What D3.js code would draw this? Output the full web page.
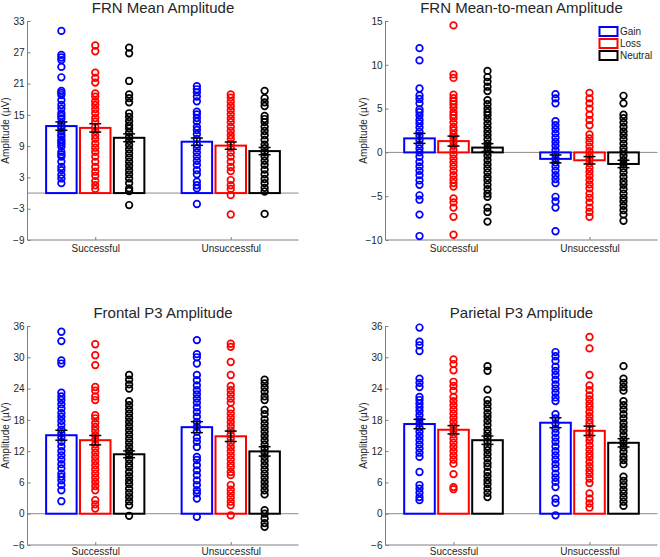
<!DOCTYPE html>
<html>
<head>
<meta charset="utf-8">
<script src="https://cdn.jsdelivr.net/npm/d3@7"></script>
<style>
  html, body { margin: 0; padding: 0; background: #fff; }
  svg { display: block; }
  text { font-family: "Liberation Sans", Arial, Helvetica, sans-serif; }
</style>
</head>
<body>
<svg id="chart" width="660" height="557"></svg>
<script>
// ---------- DATA ----------
const categories = ["Successful", "Unsuccessful"];
const seriesNames = ["Gain", "Loss", "Neutral"];
const seriesColors = ["#0000ff", "#ff0000", "#000000"];
const titles = ["FRN Mean Amplitude", "FRN Mean-to-mean Amplitude", "Frontal P3 Amplitude", "Parietal P3 Amplitude"];
const yLabel = "Amplitude (µV)";

const yTicksFrnMean = [-9, -3, 3, 9, 15, 21, 27, 33];
const yTicksFrnM2M = [-10, -5, 0, 5, 10, 15];
const yTicksFrontal = [-6, 0, 6, 12, 18, 24, 30, 36];
const yTicksParietal = [-6, 0, 6, 12, 18, 24, 30, 36];

// Bar means [category][series] and standard errors
const frnMeanMeans = [[12.85, 12.5, 10.6], [9.85, 9.1, 8.05]];
const frnMeanSE = [[0.8, 0.8, 0.75], [0.7, 0.7, 0.7]];
const frnM2MMeans = [[1.6, 1.29, 0.55], [-0.74, -0.9, -1.32]];
const frnM2MSE = [[0.57, 0.57, 0.45], [0.45, 0.42, 0.42]];
const frontalMeans = [[15.05, 14.1, 11.4], [16.6, 14.85, 11.95]];
const frontalSE = [[0.95, 0.9, 0.65], [1.05, 1.0, 0.9]];
const parietalMeans = [[17.2, 16.1, 14.1], [17.45, 15.9, 13.6]];
const parietalSE = [[0.9, 0.8, 0.8], [0.95, 0.9, 0.8]];

// Individual participant values
const frnMeanGainSucc = [31.1, 26.5, 26.0, 25.5, 24.2, 22.2, 19.6, 19.2, 18.8, 17.8, 16.9, 16.2, 15.3, 14.8, 14.3, 13.4, 12.8, 12.4, 11.8, 11.2, 10.8, 10.2, 9.8, 9.4, 8.9, 7.9, 7.4, 7.0, 6.0, 5.0, 4.4, 3.5, 2.8, 1.9];
const frnMeanLossSucc = [28.3, 27.2, 23.1, 22.1, 21.2, 19.1, 18.5, 17.6, 16.9, 16.1, 15.3, 14.4, 13.7, 12.7, 11.9, 11.1, 10.4, 9.5, 8.7, 7.9, 7.0, 6.0, 5.0, 4.1, 3.3, 2.3, 1.5, 0.8];
const frnMeanNeutralSucc = [27.9, 26.8, 21.5, 18.9, 18.2, 17.4, 15.3, 14.6, 13.8, 13.0, 12.4, 11.6, 10.8, 10.0, 9.2, 8.4, 7.6, 6.8, 6.0, 5.2, 4.4, 3.6, 2.8, 1.9, 0.9, 0.4, -2.3];
const frnMeanGainUnsucc = [20.5, 19.9, 19.3, 18.5, 17.6, 15.6, 15.1, 14.4, 13.7, 12.7, 12.1, 11.3, 10.4, 9.3, 8.6, 7.8, 7.0, 6.2, 5.4, 4.4, 3.6, 2.2, 1.5, 0.9, -2.1];
const frnMeanLossUnsucc = [18.9, 18.3, 17.5, 16.7, 15.9, 15.1, 14.3, 13.6, 12.7, 11.9, 11.1, 10.4, 9.5, 8.7, 7.8, 7.0, 6.0, 5.0, 4.2, 2.5, 1.5, 0.8, -0.4, -4.1];
const frnMeanNeutralUnsucc = [19.6, 18.2, 17.4, 16.7, 14.8, 14.2, 13.6, 12.7, 11.9, 11.1, 10.2, 9.3, 8.6, 7.8, 7.0, 6.2, 5.4, 4.5, 3.6, 2.7, 1.9, 1.0, 0.3, -4.0];

const frnM2MGainSucc = [11.9, 10.5, 7.3, 6.5, 6.1, 5.6, 4.9, 4.6, 4.2, 3.7, 3.3, 2.85, 2.35, 1.9, 1.4, 0.9, 0.45, 0, -0.5, -1.1, -1.6, -2.1, -2.6, -3.2, -3.7, -4.9, -5.4, -7.1, -9.55];
const frnM2MLossSucc = [14.5, 8.9, 8.5, 6.6, 6.2, 5.85, 5.5, 5.1, 4.6, 4.26, 3.9, 3.4, 2.9, 2.5, 2.05, 1.67, 1.2, 0.75, 0.26, -0.23, -0.7, -1.15, -1.6, -2.1, -2.6, -3.1, -3.5, -3.9, -5.25, -5.7, -6.3, -7.35, -9.4];
const frnM2MNeutralSucc = [9.3, 8.6, 8.06, 7.5, 7.0, 5.97, 5.5, 5.0, 4.6, 4.26, 3.8, 3.3, 2.85, 2.4, 1.97, 1.5, 1.0, 0.5, 0.07, -0.38, -0.88, -1.37, -1.83, -2.3, -2.8, -3.2, -3.7, -4.2, -4.7, -5.07, -6.3, -6.8, -7.9];
const frnM2MGainUnsucc = [6.65, 6.16, 5.6, 3.57, 3.1, 2.66, 2.17, 1.67, 1.2, 0.75, 0.26, -0.23, -0.7, -1.15, -1.6, -2.1, -2.6, -3.05, -3.5, -5.07, -5.6, -6.3, -9.0];
const frnM2MLossUnsucc = [6.8, 6.16, 5.6, 5.0, 4.3, 3.7, 3.1, 2.05, 1.6, 1.14, 0.64, 0.15, -0.3, -0.77, -1.26, -1.76, -2.2, -2.67, -3.16, -3.65, -4.1, -4.7, -5.18, -5.7, -6.3, -6.8, -7.35];
const frnM2MNeutralUnsucc = [6.46, 5.6, 4.3, 3.9, 3.4, 2.9, 2.4, 1.97, 1.5, 1.0, 0.5, 0.07, -0.38, -0.88, -1.37, -1.83, -2.3, -2.8, -3.3, -3.7, -4.2, -4.7, -5.18, -5.6, -6.1, -6.6, -7.1, -7.8];

const frontalGainSucc = [34.9, 33.1, 29.4, 28.8, 23.2, 22.5, 21.8, 21.0, 20.2, 19.3, 18.6, 17.8, 17.0, 16.1, 15.4, 14.6, 13.8, 12.9, 12.0, 11.2, 10.4, 9.5, 8.7, 7.7, 7.1, 6.4, 5.5, 4.5, 2.4];
const frontalLossSucc = [32.5, 30.4, 28.5, 24.3, 23.6, 22.5, 21.8, 18.9, 18.3, 17.4, 16.65, 15.9, 15.05, 14.2, 13.3, 12.5, 11.7, 10.9, 10.1, 9.3, 8.5, 7.7, 6.9, 6.1, 5.3, 4.5, 2.6, 1.8, 1.0];
const frontalNeutralSucc = [26.6, 25.7, 24.8, 24.0, 21.6, 20.8, 20.0, 19.2, 18.4, 17.6, 16.8, 16.0, 15.2, 14.4, 13.6, 12.8, 12.0, 11.2, 10.4, 9.6, 8.9, 8.0, 7.2, 6.4, 5.7, 4.8, 4.0, 3.2, 2.4, 1.6, -0.4];
const frontalGainUnsucc = [33.3, 30.6, 30.0, 28.8, 26.6, 25.6, 24.6, 23.7, 22.9, 22.1, 21.3, 20.4, 19.5, 18.6, 17.6, 16.65, 15.7, 14.6, 13.8, 12.8, 10.9, 10.3, 9.3, 8.3, 7.4, 6.4, 5.5, 4.5, 3.9, 2.9, -0.6];
const frontalLossUnsucc = [32.6, 32.0, 29.1, 26.6, 24.5, 23.7, 22.9, 22.1, 21.3, 20.0, 19.2, 18.4, 17.6, 16.8, 16.0, 15.2, 14.4, 13.6, 12.8, 12.0, 11.2, 10.4, 9.6, 8.9, 8.0, 7.4, 5.5, 4.6, 3.9, 3.1, 2.3, 1.6, -0.3];
const frontalNeutralUnsucc = [25.7, 25.0, 24.2, 23.4, 22.5, 21.8, 19.9, 19.1, 18.1, 17.3, 16.5, 15.7, 14.9, 14.1, 13.3, 12.5, 11.7, 10.9, 10.1, 9.3, 8.5, 7.7, 6.9, 6.1, 5.3, 4.5, 3.7, 0.67, 0.0, -0.9, -1.8, -2.5];

const parietalGainSucc = [35.7, 33.0, 32.3, 31.2, 25.9, 25.1, 24.3, 22.4, 21.8, 21.1, 20.4, 19.7, 18.9, 18.1, 17.3, 16.5, 15.7, 14.9, 14.1, 13.3, 12.5, 11.7, 10.9, 8.0, 5.5, 4.8, 4.0, 3.2, 2.6];
const parietalLossSucc = [29.6, 28.7, 27.5, 25.3, 24.5, 23.6, 22.4, 21.6, 20.8, 20.0, 19.2, 18.4, 17.6, 16.8, 16.0, 15.2, 14.4, 13.6, 12.8, 12.0, 11.2, 10.4, 9.6, 7.6, 5.1, 4.7];
const parietalNeutralSucc = [28.3, 27.4, 23.8, 21.8, 21.0, 20.2, 19.3, 18.6, 17.8, 17.0, 16.1, 15.4, 14.6, 13.8, 12.9, 12.2, 11.4, 10.6, 9.7, 9.0, 8.0, 7.2, 6.4, 5.7, 4.8, 4.0, 3.2];
const parietalGainUnsucc = [31.0, 30.2, 29.3, 28.2, 27.4, 26.6, 25.7, 24.8, 24.0, 23.2, 22.3, 21.6, 19.1, 18.3, 17.3, 16.3, 15.5, 14.6, 13.8, 12.9, 12.0, 11.2, 10.4, 9.5, 8.7, 7.7, 6.9, 6.1, 5.1, 2.9, 2.1, -0.3];
const parietalLossUnsucc = [33.9, 31.7, 26.6, 24.6, 23.7, 22.7, 21.9, 21.1, 20.4, 19.5, 18.7, 17.9, 17.2, 16.3, 15.5, 14.7, 14.0, 13.1, 12.3, 11.5, 10.8, 9.9, 9.1, 8.3, 7.6, 6.75, 5.9, 3.9, 2.9, 2.0, 1.2];
const parietalNeutralUnsucc = [28.3, 25.9, 25.1, 24.3, 23.6, 21.6, 20.8, 20.0, 19.1, 18.3, 17.4, 16.65, 15.9, 15.05, 14.2, 13.5, 12.7, 11.9, 11.0, 10.3, 9.5, 7.1, 6.3, 5.5, 4.6, 3.9, 3.1, 2.3, 1.5];

// ---------- ASSEMBLY ----------
const panels = [
  { title: titles[0], ticks: yTicksFrnMean, means: frnMeanMeans, se: frnMeanSE,
    dots: [[frnMeanGainSucc, frnMeanLossSucc, frnMeanNeutralSucc], [frnMeanGainUnsucc, frnMeanLossUnsucc, frnMeanNeutralUnsucc]],
    box: { x0: 27.5, x1: 298.5, y0: 21, y1: 240 }, legend: false, xPad: 5 },
  { title: titles[1], ticks: yTicksFrnM2M, means: frnM2MMeans, se: frnM2MSE,
    dots: [[frnM2MGainSucc, frnM2MLossSucc, frnM2MNeutralSucc], [frnM2MGainUnsucc, frnM2MLossUnsucc, frnM2MNeutralUnsucc]],
    box: { x0: 385.5, x1: 657.5, y0: 21, y1: 240 }, legend: true, xPad: 5 },
  { title: titles[2], ticks: yTicksFrontal, means: frontalMeans, se: frontalSE,
    dots: [[frontalGainSucc, frontalLossSucc, frontalNeutralSucc], [frontalGainUnsucc, frontalLossUnsucc, frontalNeutralUnsucc]],
    box: { x0: 27.5, x1: 298.5, y0: 326, y1: 545 }, legend: false, xPad: 2.5 },
  { title: titles[3], ticks: yTicksParietal, means: parietalMeans, se: parietalSE,
    dots: [[parietalGainSucc, parietalLossSucc, parietalNeutralSucc], [parietalGainUnsucc, parietalLossUnsucc, parietalNeutralUnsucc]],
    box: { x0: 385.5, x1: 657.5, y0: 326, y1: 545 }, legend: false, xPad: 2.5 }
];

const svg = d3.select("#chart");
const axisGray = "#7f7f7f";
const textColor = "#262626";
const offsets = [-0.25, 0, 0.25];
const barW = 0.225;
const fmt = v => (v < 0 ? "\u2212" + Math.abs(v) : String(v));

panels.forEach(p => {
  const b = p.box;
  const x = d3.scaleLinear().domain([0.5, 2.5]).range([b.x0, b.x1]);
  const y = d3.scaleLinear().domain([p.ticks[0], p.ticks[p.ticks.length - 1]]).range([b.y1, b.y0]);
  const g = svg.append("g");

  // zero line
  g.append("line")
    .attr("x1", b.x0).attr("x2", b.x1)
    .attr("y1", y(0)).attr("y2", y(0))
    .attr("stroke", "#8c8c8c").attr("stroke-width", 1);

  // y axis
  const yAxis = d3.axisLeft(y).tickValues(p.ticks).tickSize(-3).tickPadding(3).tickFormat(fmt);
  const ya = g.append("g").attr("transform", `translate(${b.x0},0)`).call(yAxis);
  ya.select(".domain").attr("stroke", axisGray).attr("d", `M0,${b.y1}V${b.y0}`);
  ya.selectAll(".tick line").attr("stroke", axisGray);
  ya.selectAll(".tick text").attr("fill", textColor).style("font-size", "10px")
    .style("font-family", '"Liberation Sans", Arial, sans-serif');

  // x axis
  const xAxis = d3.axisBottom(x).tickValues([1, 2]).tickSize(-3).tickPadding(p.xPad)
    .tickFormat(d => categories[d - 1]);
  const xa = g.append("g").attr("transform", `translate(0,${b.y1})`).call(xAxis);
  xa.select(".domain").attr("stroke", axisGray).attr("d", `M${b.x0},0H${b.x1}`);
  xa.selectAll(".tick line").attr("stroke", axisGray);
  xa.selectAll(".tick text").attr("fill", textColor).style("font-size", "10px")
    .style("font-family", '"Liberation Sans", Arial, sans-serif');

  // bars
  categories.forEach((c, ci) => {
    seriesNames.forEach((s, si) => {
      const cx = ci + 1 + offsets[si];
      const m = p.means[ci][si];
      g.append("rect")
        .attr("x", x(cx - barW / 2))
        .attr("width", x(cx + barW / 2) - x(cx - barW / 2))
        .attr("y", Math.min(y(m), y(0)))
        .attr("height", Math.abs(y(m) - y(0)))
        .attr("fill", "#fff")
        .attr("stroke", seriesColors[si])
        .attr("stroke-width", 2);
    });
  });

  // dots
  categories.forEach((c, ci) => {
    seriesNames.forEach((s, si) => {
      const cx = ci + 1 + offsets[si];
      g.append("g").selectAll("circle")
        .data(p.dots[ci][si])
        .join("circle")
        .attr("cx", x(cx))
        .attr("cy", d => y(d))
        .attr("r", 3.3)
        .attr("fill", "none")
        .attr("stroke", seriesColors[si])
        .attr("stroke-width", 1.7);
    });
  });

  // error bars
  categories.forEach((c, ci) => {
    seriesNames.forEach((s, si) => {
      const cx = x(ci + 1 + offsets[si]);
      const m = p.means[ci][si], e = p.se[ci][si];
      const eg = g.append("g").attr("stroke", "#000").attr("stroke-width", 1.5);
      eg.append("line").attr("x1", cx).attr("x2", cx).attr("y1", y(m - e)).attr("y2", y(m + e));
      [m - e, m + e].forEach(v => {
        eg.append("line").attr("x1", cx - 6).attr("x2", cx + 6).attr("y1", y(v)).attr("y2", y(v));
      });
    });
  });

  // title
  g.append("text")
    .attr("x", (b.x0 + b.x1) / 2)
    .attr("y", b.y0 - 8.5)
    .attr("text-anchor", "middle")
    .attr("fill", textColor)
    .style("font-size", "15px")
    .text(p.title);

  // y label
  const lx = b.x0 - 19;
  g.append("text")
    .attr("transform", `translate(${lx},${(b.y0 + b.y1) / 2}) rotate(-90)`)
    .attr("text-anchor", "middle")
    .attr("fill", textColor)
    .style("font-size", "10px")
    .text(yLabel);

  // legend
  if (p.legend) {
    seriesNames.forEach((s, si) => {
      const cy = 31.5 + si * 12;
      g.append("rect")
        .attr("x", 599.5).attr("y", cy - 4.5)
        .attr("width", 18).attr("height", 9)
        .attr("fill", "#fff")
        .attr("stroke", seriesColors[si]).attr("stroke-width", 2);
      g.append("text")
        .attr("x", 620).attr("y", cy + 3.5)
        .attr("fill", textColor)
        .style("font-size", "10px")
        .text(s);
    });
  }
});
</script>
</body>
</html>
